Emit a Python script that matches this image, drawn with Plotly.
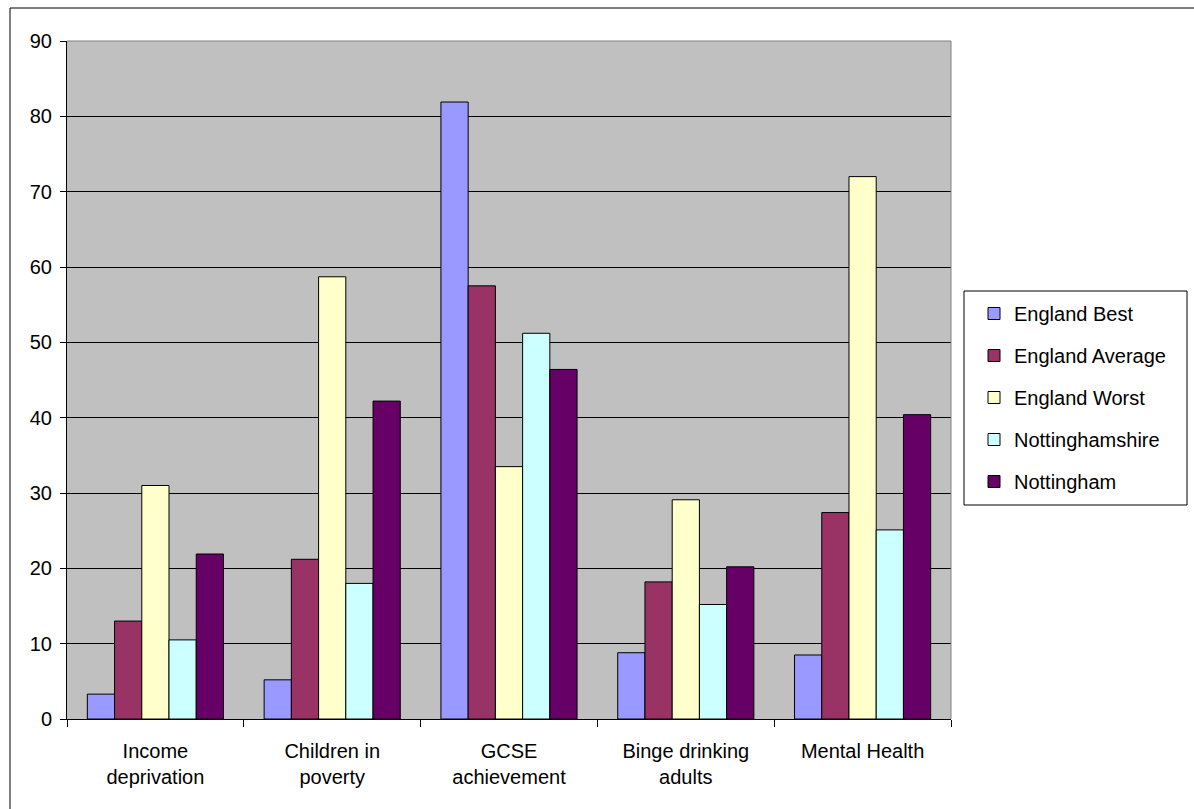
import plotly.graph_objects as go

categories = ["Income<br>deprivation", "Children in<br>poverty", "GCSE<br>achievement",
              "Binge drinking<br>adults", "Mental Health"]
series_names = ["England Best", "England Average", "England Worst", "Nottinghamshire", "Nottingham"]
england_best = [3.3, 5.2, 81.9, 8.8, 8.5]
england_average = [13.0, 21.2, 57.5, 18.2, 27.4]
england_worst = [31.0, 58.7, 33.5, 29.1, 72.0]
nottinghamshire = [10.5, 18.0, 51.2, 15.2, 25.1]
nottingham = [21.9, 42.2, 46.4, 20.2, 40.4]
colors = ["#9999FF", "#993366", "#FFFFCC", "#CCFFFF", "#660066"]
y_ticks = [0, 10, 20, 30, 40, 50, 60, 70, 80, 90]

W, H = 1194, 809
L, R, T, B = 67, 243, 41, 90
PW, PH = W - L - R, H - T - B

def px_x(x):
    return (x - L) / PW

def px_y(y):
    return (H - B - y) / PH

FONT = "Liberation Sans, Arial, sans-serif"

fig = go.Figure()
for i, (name, vals) in enumerate(zip(series_names,
                                     [england_best, england_average, england_worst,
                                      nottinghamshire, nottingham])):
    fig.add_trace(go.Bar(
        x=categories, y=vals, name=name,
        marker=dict(color=colors[i], line=dict(color="black", width=1)),
        legendgroup=f"g{i}",
    ))

shapes = [
    # outer chart frame
    dict(type="rect", xref="paper", yref="paper",
         x0=px_x(10), x1=px_x(1205), y0=px_y(820), y1=px_y(8),
         line=dict(color="black", width=1), fillcolor="rgba(0,0,0,0)", layer="above"),
    # plot area top/right border
    dict(type="line", xref="paper", yref="paper", x0=0, x1=1, y0=1, y1=1,
         line=dict(color="#808080", width=1), layer="above"),
    dict(type="line", xref="paper", yref="paper", x0=1, x1=1, y0=0, y1=1,
         line=dict(color="#808080", width=1), layer="above"),
    # legend box
    dict(type="rect", xref="paper", yref="paper",
         x0=px_x(964), x1=px_x(1187), y0=px_y(505), y1=px_y(291),
         line=dict(color="black", width=1), fillcolor="rgba(0,0,0,0)", layer="above"),
]

fig.update_layout(
    width=W, height=H,
    margin=dict(l=L, r=R, t=T, b=B, pad=0),
    paper_bgcolor="white",
    plot_bgcolor="#C0C0C0",
    font=dict(family=FONT, size=20, color="black"),
    barmode="group",
    bargap=0.23,
    bargroupgap=0,
    showlegend=True,
    legend=dict(
        x=px_x(974), y=px_y(294), xanchor="left", yanchor="top",
        traceorder="grouped", tracegroupgap=13,
        bgcolor="rgba(0,0,0,0)", borderwidth=0,
        font=dict(family=FONT, size=20, color="black"),
    ),
    xaxis=dict(
        type="category",
        showline=True, linecolor="black", linewidth=1,
        ticks="outside", tickson="boundaries", ticklen=7, tickcolor="black",
        showgrid=False,
        ticklabelstandoff=14,
        tickfont=dict(family=FONT, size=20, color="black"),
    ),
    yaxis=dict(
        range=[0, 90], tickvals=y_ticks,
        showline=True, linecolor="black", linewidth=1,
        ticks="outside", ticklen=6, tickcolor="black",
        showgrid=True, gridcolor="black", gridwidth=1,
        zeroline=False,
        ticklabelstandoff=4,
        tickfont=dict(family=FONT, size=20, color="black"),
    ),
    shapes=shapes,
)

fig.write_html("out.html")
